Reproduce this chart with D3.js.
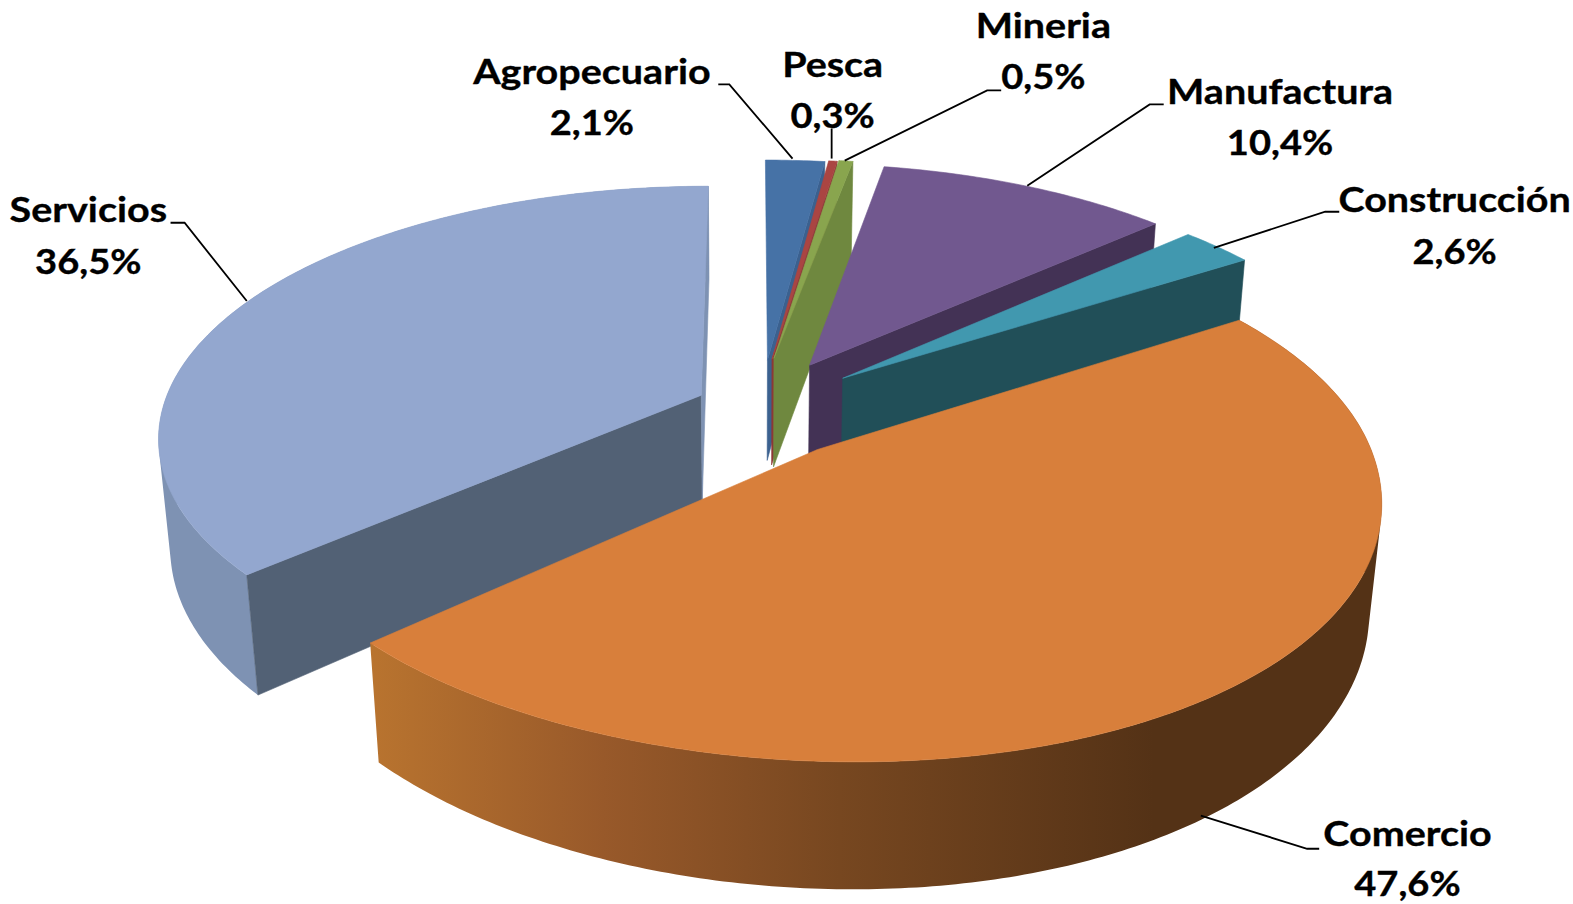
<!DOCTYPE html>
<html>
<head>
<meta charset="utf-8">
<script src="https://cdn.jsdelivr.net/npm/d3@7/dist/d3.min.js"></script>
<style>
html,body{margin:0;padding:0;background:#fff;overflow:hidden}
svg{display:block}
text{font-family:Lato,"Open Sans",sans-serif;font-weight:700;fill:#000;stroke:#000;stroke-width:0.35;text-anchor:middle;dominant-baseline:central}
</style>
</head>
<body>
<svg id="chart"></svg>
<script>
// --- data ---
const categories = ["Agropecuario","Pesca","Mineria","Manufactura","Construcción","Comercio","Servicios"];
const shares = [2.1,0.3,0.5,10.4,2.6,47.6,36.5];

// --- appearance ---
const topColors  = ["#4672a6","#aa4542","#89a54e","#71588f","#4198af","#d87f3b","#93a7cf"];
const sideColors = ["#3b618f","#8c3836","#6f883f","#433255","#214f58","#5a3618","#7e92b3"];
const cutColors  = ["#3b618f","#8c3836","#6f883f","#433255","#214f58","#5a3618","#526175"];
// where each exploded slice's tip sits
const tipX = [765,769.5,771.5,807,840,815,699];
const tipY = [359,358,357,364,377,448,394];
const nearShear = [0,0,0,0,0,25,0];
const depthOf = [106,112,115,106,106,106,111];
// drawing order, back to front
const paintOrder = [6,0,1,2,3,4,5];
// label centres and leader lines
const labelX = [590,830,1040,1276,1450,1403,88];
const labelY = [70,63,24,90,198,830,208];
const valueY = [121.5,114.5,75.5,141.5,249.5,880,259.5];
const leaders = [
  [[716,84],[727,84],[790,158]],
  [[829,128],[829,158]],
  [[998,90],[984,90],[842,160]],
  [[1160,104],[1146,104],[1024,185]],
  [[1335,211],[1321,211],[1210,247]],
  [[1315,846],[1303,846],[1197,813]],
  [[170,222],[184,222],[246,300]]
];
// perspective
const vanishX = 750, vanishY = -1112, depthSpan = 1561, depthGain = 0.1665;
const radius = 552, plumbY = 6000;
const fontPx = 35, nameStretch = 1.125, valueStretch = 1.085;

const svg = d3.select("#chart")
  .attr("width",1573).attr("height",904).attr("viewBox","0 0 1568 901");

const defs = svg.append("defs");
const grad = defs.append("linearGradient").attr("id","comercioSide")
  .attr("gradientUnits","userSpaceOnUse").attr("x1",367).attr("x2",1150).attr("y1",0).attr("y2",0);
[[0,"#b9742f"],[0.3,"#98592a"],[0.6,"#774720"],[1,"#543216"]].forEach(s=>
  grad.append("stop").attr("offset",s[0]).attr("stop-color",s[1]));

const arcs = d3.pie().sort(null).startAngle(0).endAngle(2*Math.PI)(shares);
const line = d3.line();

function slicer(i){
  const wa = depthSpan/(tipY[i]-vanishY);
  const base = (tipX[i]-vanishX)*wa;
  const top = (a,r=1)=>{
    const v = r*Math.cos(a);
    const w = wa+depthGain*v;
    const shear = v<0 ? nearShear[i]*v*v : 0;
    return {x:vanishX+(base+radius*r*Math.sin(a))/w+shear, y:vanishY+depthSpan/w, w};
  };
  const low = p=>{
    const dy = depthOf[i]/p.w;
    return {x:p.x+(vanishX-p.x)*dy/(plumbY-p.y), y:p.y+dy};
  };
  return {top,low};
}
const xy = p=>[p.x,p.y];

paintOrder.forEach(i=>{
  const a0 = arcs[i].startAngle, a1 = arcs[i].endAngle;
  const {top,low} = slicer(i);
  const n = Math.max(8,Math.ceil((a1-a0)*80));
  const rim = d3.range(n+1).map(k=>top(a0+(a1-a0)*k/n));
  const tip = top(0,0);
  const g = svg.append("g").attr("class","slice");
  const fill = (c,pts)=>g.append("path").attr("d",line(pts)+"Z").attr("fill",c)
      .attr("stroke",c).attr("stroke-width",0.6);

  if(d3.min(rim,(p,k)=>Math.cos(a0+(a1-a0)*k/n))<0){
    const c = categories[i]==="Comercio" ? "url(#comercioSide)" : sideColors[i];
    // one compound path, every quad wound the same way, so no seams show
    const d = d3.range(n).map(k=>{
      const p=rim[k], q=rim[k+1];
      let quad=[xy(p),xy(q),xy(low(q)),xy(low(p))];
      if(d3.polygonArea(quad)<0) quad=quad.reverse();
      return line(quad)+"Z";
    }).join("");
    g.append("path").attr("d",d).attr("fill",c).attr("fill-rule","nonzero");
  }
  if(Math.sin(a0)<-1e-6){
    const p = rim[0];
    fill(cutColors[i],[xy(p),xy(low(p)),xy(low(tip)),xy(tip)]);
  }
  if(Math.sin(a1)>-1e-6 || i===categories.length-1){
    const p = rim[n];
    fill(i===6?sideColors[i]:cutColors[i],[xy(p),xy(low(p)),xy(low(tip)),xy(tip)]);
  }
  fill(topColors[i],[xy(tip)].concat(rim.map(xy)));
});

// leaders
leaders.forEach(l=>svg.append("path").attr("d",line(l)).attr("fill","none")
  .attr("stroke","#000").attr("stroke-width",1.8));

// labels
const place = (txt,x,y,st)=>svg.append("text").attr("font-size",fontPx)
  .attr("transform",`translate(${x},${y}) scale(${st},1)`).text(txt);
categories.forEach((c,i)=>{
  place(c,labelX[i],labelY[i],nameStretch);
  place(shares[i].toFixed(1).replace(".",",")+"%",labelX[i],valueY[i],valueStretch);
});
</script>
</body>
</html>
